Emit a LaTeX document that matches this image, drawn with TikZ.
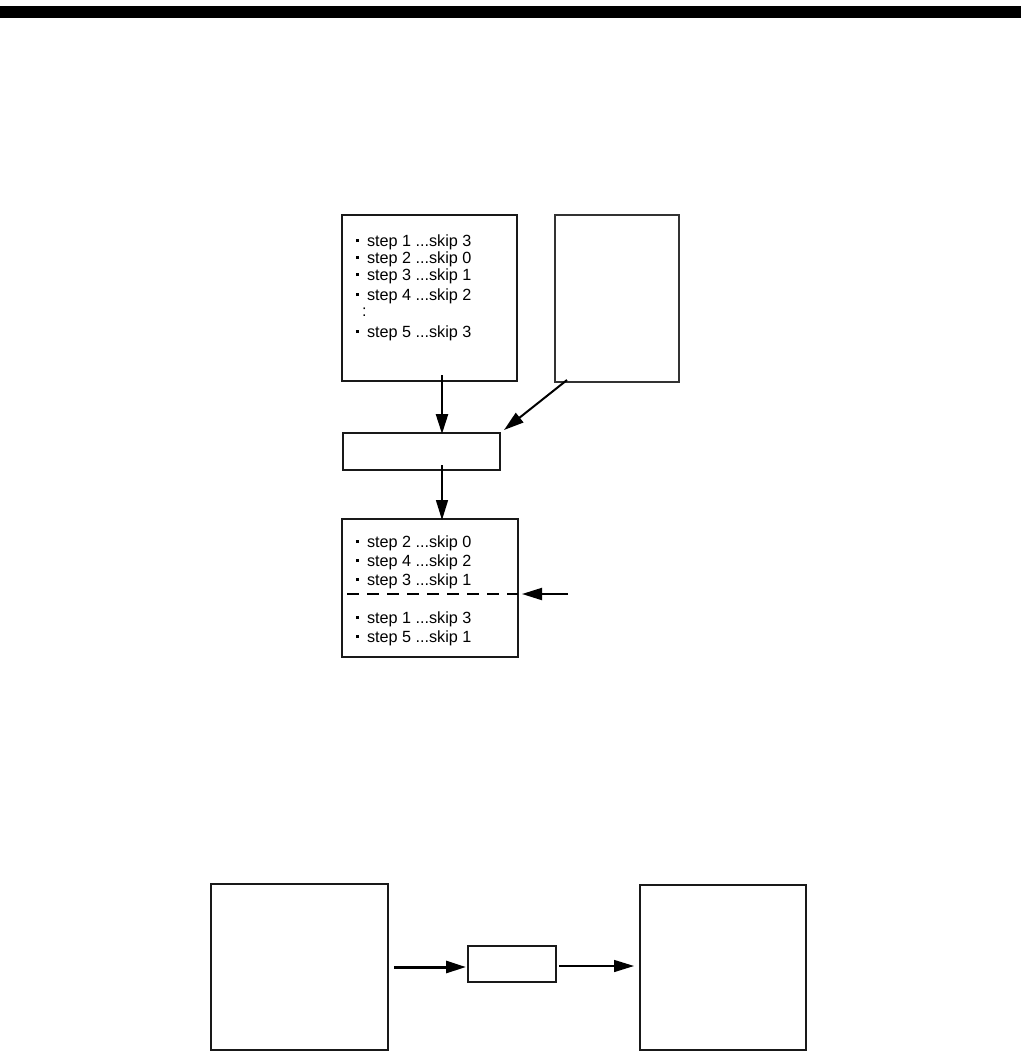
\documentclass[tikz,border=0pt]{standalone}
\usepackage{fontspec}
\setmainfont{Liberation Sans}
\usetikzlibrary{arrows.meta,calc}
\tikzset{
  x=1pt,y=-1pt,
  box/.style={draw=black!90,line width=2pt,inner sep=0pt,outer sep=0pt},
  thinbox/.style={draw=black!80,line width=1.5pt,inner sep=0pt,outer sep=0pt},
  txt/.style={anchor=base west,inner sep=0pt,outer sep=0pt,font=\fontsize{16.2pt}{18pt}\selectfont},
  arr/.style={-{Triangle[length=20pt,width=12pt]},line width=#1},
  arr/.default=2pt
}
\newcommand{\bul}{\makebox[11pt][l]{\rule[4pt]{2.8pt}{2.8pt}}}
\begin{document}
\begin{tikzpicture}
\useasboundingbox (0,0) rectangle (1021,1053);
\fill[black] (0,6) rectangle (1021,18);
% top boxes
\node[box,minimum width=175pt,minimum height=166pt] (A) at (429.5,298) {};
\node[thinbox,minimum width=124pt,minimum height=167pt] (B) at (617,298.5) {};
\node[box,minimum width=157pt,minimum height=37pt] (C) at (421.5,451.5) {};
\node[box,minimum width=176pt,minimum height=138pt] (D) at (430,588) {};
% texts in A
\node[txt] (a1) at (356,246) {\bul step 1 ...skip 3};
\node[txt] (a2) at (356,263) {\bul step 2 ...skip 0};
\node[txt] (a3) at (356,280) {\bul step 3 ...skip 1};
\node[txt] (a4) at (356,300) {\bul step 4 ...skip 2};
\node[txt] (a5) at (362,316) {:};
\node[txt] (a6) at (356,337) {\bul step 5 ...skip 3};
% texts in D
\node[txt] (d1) at (356,547) {\bul step 2 ...skip 0};
\node[txt] (d2) at (356,566) {\bul step 4 ...skip 2};
\node[txt] (d3) at (356,585) {\bul step 3 ...skip 1};
\node[txt] (d4) at (356,623) {\bul step 1 ...skip 3};
\node[txt] (d5) at (356,642) {\bul step 5 ...skip 1};
% dashed divider
\coordinate (dl) at (568,594);
\draw[line width=2pt,dash pattern=on 12pt off 8pt] ([xshift=5pt]D.west |- dl) -- (D.east |- dl);
% arrows
\draw[arr=2.5pt] ([xshift=12.5pt,yshift=6pt]A.south) -- ([xshift=20.5pt,yshift=-1pt]C.north);
\draw[arr=2pt] ([xshift=12pt,yshift=2pt]B.south west) -- ([xshift=4pt,yshift=3pt]C.north east);
\draw[arr=1.5pt] ([xshift=20.5pt,yshift=5pt]C.south) -- ([xshift=12pt,yshift=-1pt]D.north);
\draw[arr=2pt] (dl) -- ([xshift=4pt]D.east |- dl);
% bottom
\node[box,minimum width=177pt,minimum height=166pt] (E) at (299.5,967) {};
\node[box,minimum width=88pt,minimum height=36pt] (F) at (512,964) {};
\node[box,minimum width=166pt,minimum height=165pt] (G) at (723,967.5) {};
\draw[arr=3pt,shorten <=6pt,shorten >=2pt] (E.east) -- (E.east -| F.west);
\draw[arr=1.5pt,shorten <=3pt,shorten >=6pt] ([yshift=-2pt]F.east) -- ([yshift=-2pt]F.east -| G.west);
\end{tikzpicture}
\end{document}
